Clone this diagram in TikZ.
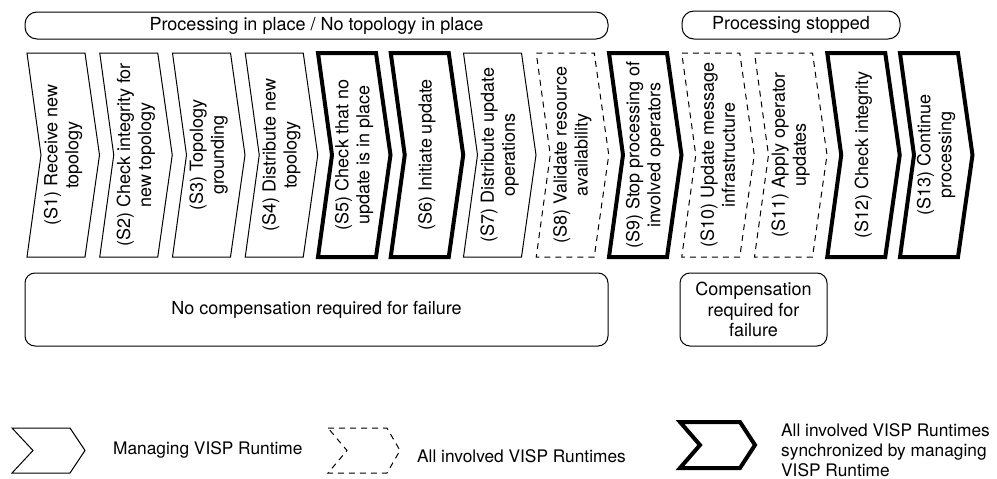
\documentclass[tikz,border=0pt]{standalone}
\usepackage{fontspec}
\setmainfont{TeX Gyre Heros}
% one vertical chevron of the process row: #1 index, #2 line style, #3 node name, #4 label
\newcommand\procchev[4]{%
  \pgfmathsetmacro\cx{27+72.75*(#1-1)}%
  \draw[#2] (\cx,53) -- ++(58,0) -- ++(14.5,102) -- ++(-14.5,102) -- ++(-58,0) -- ++(14,-102) -- cycle;
  \node[rotate=90, align=center] (#3) at (\cx+36,155) {#4};
}
\begin{document}
\begin{tikzpicture}[x=1pt,y=-1pt,
  every node/.style={font=\fontsize{18}{21}\selectfont, inner sep=0pt},
  legendtext/.style={font=\fontsize{17.3}{20}\selectfont},
  chev/.style={draw=black, line width=1pt, line join=miter},
  chevdash/.style={chev, dash pattern=on 6pt off 5pt},
  chevthick/.style={chev, line width=4pt},
  phase/.style={draw, line width=1pt, rounded corners=12pt, align=center},
]
\useasboundingbox (0,0) rectangle (997,479);

% phase bars above the row
\node[phase, minimum width=583pt, minimum height=27pt] (inplace) at (316.5,25.5) {Processing in place / No topology in place};
\node[phase, minimum width=218pt, minimum height=28pt] (stopped) at (791,25) {Processing stopped};

% the thirteen steps
\procchev{1}{chev}{s1}{(S1) Receive new\\topology}
\procchev{2}{chev}{s2}{(S2) Check integrity for\\new topology}
\procchev{3}{chev}{s3}{(S3) Topology\\grounding}
\procchev{4}{chev}{s4}{(S4) Distribute new\\topology}
\procchev{5}{chevthick}{s5}{(S5) Check that no\\update is in place}
\procchev{6}{chevthick}{s6}{(S6) Initiate update}
\procchev{7}{chev}{s7}{(S7) Distribute update\\operations}
\procchev{8}{chevdash}{s8}{(S8) Validate resource\\availability}
\procchev{9}{chevthick}{s9}{(S9) Stop processing of\\involved operators}
\procchev{10}{chevdash}{s10}{(S10) Update message\\infrastructure}
\procchev{11}{chevdash}{s11}{(S11) Apply operator\\updates}
\procchev{12}{chevthick}{s12}{(S12) Check integrity}
\procchev{13}{chevthick}{s13}{(S13) Continue\\processing}

% compensation bars below the row
\node[phase, rounded corners=10pt, minimum width=583pt, minimum height=73pt] (nocomp) at (316.5,309.5) {No compensation required for failure};
\node[phase, rounded corners=10pt, minimum width=147pt, minimum height=73pt, font=\fontsize{18}{20.5}\selectfont] (comp) at (753.5,309.5) {Compensation\\required for\\failure};

% legend
\draw[chev] (12,428) -- (70,428) -- (85,450.5) -- (70,473) -- (12,473) -- (33,450.5) -- cycle;
\node[legendtext, anchor=west] (lgmanaging) at (113,450) {Managing VISP Runtime};
\draw[chevdash] (328,428) -- (387,428) -- (400,450.5) -- (387,473) -- (328,473) -- (347,450.5) -- cycle;
\node[legendtext, anchor=west] (lginvolved) at (417,456) {All involved VISP Runtimes};
\draw[chevthick] (680,422) -- (740,422) -- (755,445) -- (740,468) -- (680,468) -- (700,445) -- cycle;
\node[legendtext, anchor=west, align=left] (lgsync) at (781,450.5) {All involved VISP Runtimes\\synchronized by managing\\VISP Runtime};
\end{tikzpicture}
\end{document}
